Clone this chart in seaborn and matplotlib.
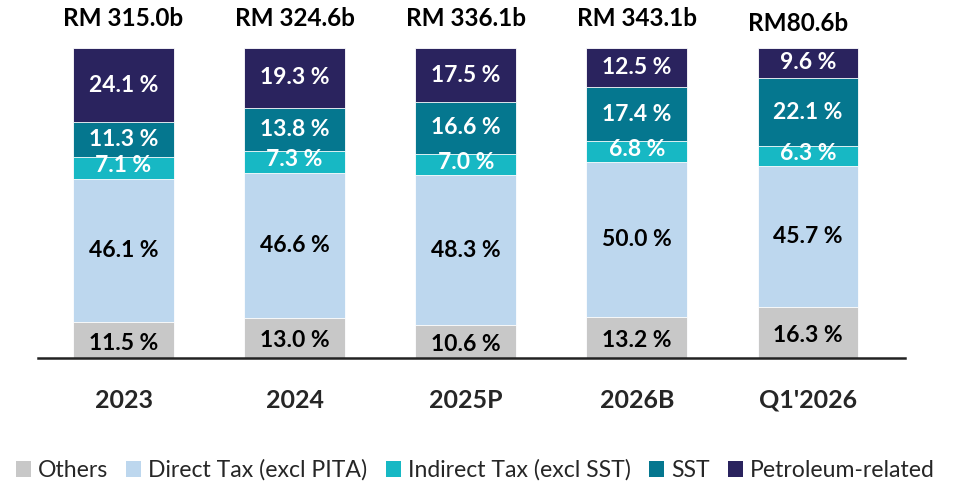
import matplotlib
matplotlib.use('Agg')
import matplotlib.pyplot as plt
import seaborn as sns
import pandas as pd
import numpy as np
from matplotlib.patches import Patch

periods = ['2023', '2024', '2025P', '2026B', "Q1'2026"]
totals = ['RM 315.0b', 'RM 324.6b', 'RM 336.1b', 'RM 343.1b', 'RM80.6b']
others = [11.5, 13.0, 10.6, 13.2, 16.3]
direct_tax = [46.1, 46.6, 48.3, 50.0, 45.7]
indirect_tax = [7.1, 7.3, 7.0, 6.8, 6.3]
sst = [11.3, 13.8, 16.6, 17.4, 22.1]
petroleum = [24.1, 19.3, 17.5, 12.5, 9.6]

series = ['Others', 'Direct Tax (excl PITA)', 'Indirect Tax (excl SST)', 'SST', 'Petroleum-related']
colors = ['#c8c8c8', '#bdd7ee', '#17b8c4', '#05778f', '#2a235e']
text_colors = ['black', 'black', 'white', 'white', 'white']

df = pd.DataFrame({'period': periods, 'Others': others, 'Direct Tax (excl PITA)': direct_tax,
                   'Indirect Tax (excl SST)': indirect_tax, 'SST': sst, 'Petroleum-related': petroleum})
cum = df[series].cumsum(axis=1)

sns.set_style('white')
plt.rcParams['font.family'] = ['Lato', 'DejaVu Sans']

fig = plt.figure(figsize=(9.6, 4.83), dpi=100)
ax = fig.add_axes([38/960, 1-358/483, (905-38)/960, (358-48)/483])

# stacked bars: draw cumulative totals from the top layer down
for i in reversed(range(len(series))):
    sns.barplot(x=df['period'], y=cum[series[i]], color=colors[i], width=0.59,
                edgecolor='white', linewidth=0.6, saturation=1, ax=ax, order=periods)

# segment labels
for j in range(len(periods)):
    for i, s in enumerate(series):
        v = df[s][j]
        mid = cum[s][j] - v / 2
        if i == 2:
            mid += 0.8
        if i == 0:
            mid -= 1.0
        ax.text(j, mid, f'{v:.1f} %', ha='center', va='center', fontsize=16.5,
                fontweight='bold', color=text_colors[i])
    dx = -0.06 if j == 4 else 0
    dy = 8.0 if j == 4 else 9.6
    ax.text(j + dx, 100 + dy, totals[j], ha='center', va='center', fontsize=17.5,
            fontweight='bold', color='black', clip_on=False)

ax.set_xlim(-0.5, 4.567)
ax.set_ylim(0, 100)
ax.set_xlabel('')
ax.set_ylabel('')
ax.set_yticks([])
ax.tick_params(axis='x', length=0, pad=22, labelsize=18)
for lab in ax.get_xticklabels():
    lab.set_fontweight('bold')
for sp in ['top', 'right', 'left']:
    ax.spines[sp].set_visible(False)
ax.spines['bottom'].set_linewidth(1.8)
ax.spines['bottom'].set_color('#222222')

handles = [Patch(facecolor=c, edgecolor='none') for c in colors]
fig.legend(handles, series, loc='center', bbox_to_anchor=(0.495, 0.027), ncol=5, frameon=False,
           fontsize=16.6, handlelength=0.65, handleheight=0.7, handletextpad=0.3, columnspacing=0.8,
           borderaxespad=0)

fig.savefig('out.png', dpi=100)
